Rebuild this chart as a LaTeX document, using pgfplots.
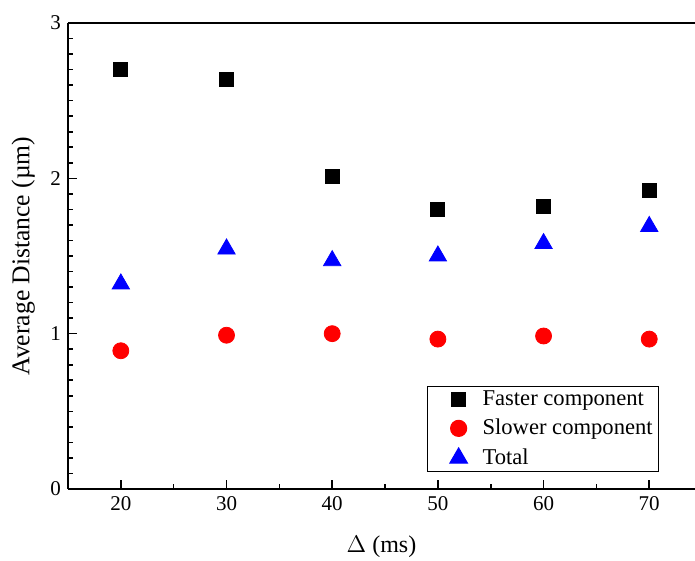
\documentclass[border=0pt]{standalone}
\usepackage{pgfplots}
\pgfplotsset{compat=1.18}
\usepackage{fontspec}
\setmainfont{Liberation Serif}
\begin{document}
\begin{tikzpicture}
\begin{axis}[
  at={(0,0)}, anchor=south west,
  scale only axis, width=313.5pt, height=233pt,
  xmin=15, xmax=74.33, ymin=0, ymax=3,
  axis x line*=bottom, axis y line*=left,
  axis line style={line width=1pt, -},
  xtick={20,30,...,70}, minor xtick={25,35,...,65},
  ytick={0,1,2,3}, minor y tick num=9,
  tick align=inside, tick style={black, line width=0.8pt},
  major tick length=4.5pt, minor tick length=2.5pt,
  /pgf/number format/assume math mode=true,
  ticklabel style={font=\fontsize{10.5}{12}\selectfont},
  xlabel={$\Delta$ (ms)},
  ylabel={Average Distance (µm)},
  xlabel style={font=\fontsize{12}{14}\selectfont, at={(axis description cs:0.5,0)}, anchor=north, yshift=-20pt},
  ylabel style={font=\fontsize{12.8}{14}\selectfont, at={(axis description cs:0,0.5)}, anchor=south, yshift=13pt},
  legend style={at={(rel axis cs:0.5726,0.0365)}, anchor=south west,
    draw=black, line width=0.6pt, font=\fontsize{11.3}{13}\selectfont,
    inner xsep=1pt, inner ysep=0pt, row sep=1.5pt,
    legend cell align=left},
  legend image code/.code={\path[draw=none] (0cm,0cm) (0.86cm,0cm); \draw[#1] plot[only marks] coordinates {(0.51cm,0cm)};},
  clip=false,
]
\addplot[only marks, mark=square*, mark size=3.5pt, draw=black, fill=black] coordinates {
(20,2.70) (30,2.64) (40,2.01) (50,1.80) (60,1.82) (70,1.92)};
\addlegendentry{Faster component}
\addplot[only marks, mark=*, mark size=4pt, draw=red, fill=red] coordinates {
(20,0.89) (30,0.99) (40,1.00) (50,0.965) (60,0.985) (70,0.965)};
\addlegendentry{Slower component}
\addplot[only marks, mark=triangle*, mark size=5pt, draw=blue, fill=blue] coordinates {
(20,1.32) (30,1.545) (40,1.47) (50,1.50) (60,1.58) (70,1.69)};
\addlegendentry{Total}
\draw[line width=1pt] (rel axis cs:0,1) -- (rel axis cs:1,1);
\end{axis}
\pgfresetboundingbox
\path[use as bounding box] (-34pt,-36pt) rectangle (313.5pt,244.5pt);
\end{tikzpicture}
\end{document}
